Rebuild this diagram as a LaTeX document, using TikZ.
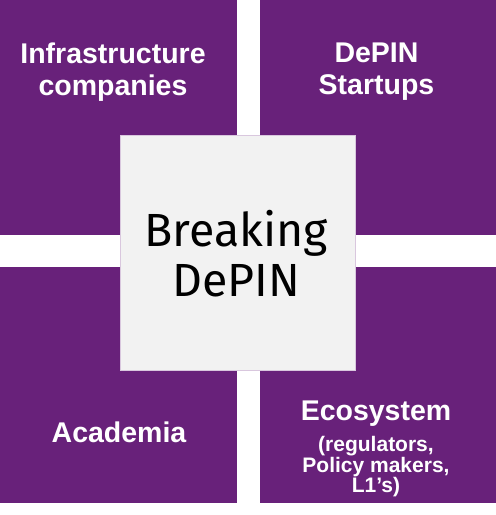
\documentclass[tikz,border=0pt]{standalone}
\usepackage{fontspec}
\setmainfont{Liberation Sans}
\newfontfamily\breakfont{Fira Sans}
\usepackage{xcolor}
\usetikzlibrary{positioning}

\definecolor{depinpurple}{HTML}{68217A}
\definecolor{depingrey}{HTML}{F2F2F2}

\tikzset{
  quadbox/.style={fill=depinpurple, draw=none, inner sep=0pt},
  quadlabel/.style={text=white, font=\bfseries\fontsize{28.5}{32}\selectfont, align=center, inner sep=0pt, anchor=north},
  sublabel/.style={text=white, font=\bfseries\fontsize{21}{19}\selectfont, align=center, inner sep=0pt, anchor=north},
  corebox/.style={fill=depingrey, draw=depinpurple!25, line width=0.6pt, inner sep=0pt}
}

\begin{document}
\begin{tikzpicture}[x=1pt, y=1pt]
  \useasboundingbox[fill=white] (0,0) rectangle (496,515);
  % Four purple quadrants
  \node[quadbox, minimum width=237pt, minimum height=235pt] (infra) at (118.5,397.5) {};
  \node[quadbox, minimum width=236pt, minimum height=235pt] (startups) at (378,397.5) {};
  \node[quadbox, minimum width=237pt, minimum height=236pt] (academia) at (118.5,130) {};
  \node[quadbox, minimum width=236pt, minimum height=236pt] (ecosystem) at (378,130) {};
  % Centre square
  \node[corebox, minimum width=235pt, minimum height=235pt] (core) at (237.5,262.5) {};
  % Quadrant labels
  \node[quadlabel] (infratext) at (113,472) {Infrastructure\\companies};
  \node[quadlabel] (startuptext) at (376.5,472) {DePIN\\Startups};
  \node[quadlabel] (academiatext) at (119,93) {Academia};
  \node[quadlabel] (ecotext) at (376,114) {Ecosystem};
  \node[sublabel, below=9pt of ecotext] (ecosub) {(regulators,\\Policy makers,\\L1’s)};
  % Centre label
  \node[align=center, inner sep=0pt, anchor=north, font=\breakfont\fontsize{46.5}{50}\selectfont] (coretext) at (236,305) {Breaking\\DePIN};
\end{tikzpicture}
\end{document}
